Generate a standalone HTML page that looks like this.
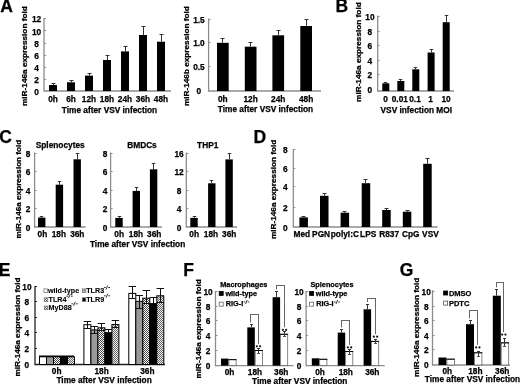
<!DOCTYPE html>
<html><head><meta charset="utf-8"><style>
html,body{margin:0;padding:0;background:#fff;width:520px;height:384px;overflow:hidden}
svg{display:block;will-change:transform}
text{font-family:"Liberation Sans", sans-serif;stroke:#000;stroke-width:0.25px}
</style></head><body>
<svg width="520" height="384" viewBox="0 0 520 384">
<defs>
<pattern id="pcheck" width="2" height="2" patternUnits="userSpaceOnUse"><rect width="2" height="2" fill="#fff"/><rect width="1" height="1" fill="#444"/><rect x="1" y="1" width="1" height="1" fill="#444"/></pattern>
<pattern id="phatch" width="2" height="2" patternUnits="userSpaceOnUse"><rect width="2" height="2" fill="#eee"/><rect width="1" height="1" fill="#666"/><rect x="1" y="1" width="1" height="1" fill="#666"/></pattern>
<pattern id="pgray" width="2" height="2" patternUnits="userSpaceOnUse"><rect width="2" height="2" fill="#bbb"/><rect width="1" height="1" fill="#666"/></pattern>
</defs>
<rect width="520" height="384" fill="#fff"/>
<text x="0.36" y="12.04" font-size="17.5" font-weight="bold">A</text>
<text transform="translate(27.20,56.10) rotate(-90)" x="0" y="0" font-size="7.6" text-anchor="middle" font-weight="bold" textLength="99.8" lengthAdjust="spacingAndGlyphs">miR-146a expression fold</text>
<line x1="44.00" y1="18.00" x2="44.00" y2="91.65" stroke="#8c8c8c" stroke-width="1.3"/>
<line x1="44.00" y1="91.00" x2="171.00" y2="91.00" stroke="#8c8c8c" stroke-width="1.3"/>
<text x="36.50" y="95" font-size="8.3" text-anchor="middle" font-weight="bold" fill="#000" >0</text>
<text x="36.50" y="83" font-size="8.3" text-anchor="middle" font-weight="bold" fill="#000" >2</text>
<text x="36.50" y="71" font-size="8.3" text-anchor="middle" font-weight="bold" fill="#000" >4</text>
<text x="36.50" y="59" font-size="8.3" text-anchor="middle" font-weight="bold" fill="#000" >6</text>
<text x="36.50" y="47" font-size="8.3" text-anchor="middle" font-weight="bold" fill="#000" >8</text>
<text x="36.50" y="35" font-size="8.3" text-anchor="middle" font-weight="bold" fill="#000" >10</text>
<text x="36.50" y="22" font-size="8.3" text-anchor="middle" font-weight="bold" fill="#000" >12</text>
<line x1="44.00" y1="79.50" x2="46.00" y2="79.50" stroke="#8c8c8c" stroke-width="1"/>
<line x1="44.00" y1="67.50" x2="46.00" y2="67.50" stroke="#8c8c8c" stroke-width="1"/>
<line x1="44.00" y1="55.50" x2="46.00" y2="55.50" stroke="#8c8c8c" stroke-width="1"/>
<line x1="44.00" y1="43.50" x2="46.00" y2="43.50" stroke="#8c8c8c" stroke-width="1"/>
<line x1="44.00" y1="30.50" x2="46.00" y2="30.50" stroke="#8c8c8c" stroke-width="1"/>
<line x1="44.00" y1="18.50" x2="46.00" y2="18.50" stroke="#8c8c8c" stroke-width="1"/>
<rect x="49.00" y="85.00" width="8.00" height="6.00" fill="#000"/>
<line x1="53.50" y1="83.50" x2="53.50" y2="85.00" stroke="#333" stroke-width="1"/>
<line x1="51.50" y1="83.50" x2="55.50" y2="83.50" stroke="#333" stroke-width="1"/>
<text x="53.00" y="102" font-size="8.3" text-anchor="middle" font-weight="bold" fill="#000" >0h</text>
<rect x="67.00" y="82.30" width="8.00" height="8.70" fill="#000"/>
<line x1="71.50" y1="80.50" x2="71.50" y2="82.30" stroke="#333" stroke-width="1"/>
<line x1="69.50" y1="80.50" x2="73.50" y2="80.50" stroke="#333" stroke-width="1"/>
<text x="71.00" y="102" font-size="8.3" text-anchor="middle" font-weight="bold" fill="#000" >6h</text>
<rect x="85.00" y="75.60" width="8.00" height="15.40" fill="#000"/>
<line x1="89.50" y1="73.50" x2="89.50" y2="75.60" stroke="#333" stroke-width="1"/>
<line x1="87.50" y1="73.50" x2="91.50" y2="73.50" stroke="#333" stroke-width="1"/>
<text x="89.00" y="102" font-size="8.3" text-anchor="middle" font-weight="bold" fill="#000" >12h</text>
<rect x="103.00" y="60.00" width="8.00" height="31.00" fill="#000"/>
<line x1="107.50" y1="55.50" x2="107.50" y2="60.00" stroke="#333" stroke-width="1"/>
<line x1="105.50" y1="55.50" x2="109.50" y2="55.50" stroke="#333" stroke-width="1"/>
<text x="107.00" y="102" font-size="8.3" text-anchor="middle" font-weight="bold" fill="#000" >18h</text>
<rect x="121.00" y="51.40" width="8.00" height="39.60" fill="#000"/>
<line x1="125.50" y1="46.50" x2="125.50" y2="51.40" stroke="#333" stroke-width="1"/>
<line x1="123.50" y1="46.50" x2="127.50" y2="46.50" stroke="#333" stroke-width="1"/>
<text x="125.00" y="102" font-size="8.3" text-anchor="middle" font-weight="bold" fill="#000" >24h</text>
<rect x="139.00" y="35.00" width="8.00" height="56.00" fill="#000"/>
<line x1="143.50" y1="26.50" x2="143.50" y2="35.00" stroke="#333" stroke-width="1"/>
<line x1="141.50" y1="26.50" x2="145.50" y2="26.50" stroke="#333" stroke-width="1"/>
<text x="143.00" y="102" font-size="8.3" text-anchor="middle" font-weight="bold" fill="#000" >36h</text>
<rect x="157.00" y="41.70" width="8.00" height="49.30" fill="#000"/>
<line x1="161.50" y1="34.50" x2="161.50" y2="41.70" stroke="#333" stroke-width="1"/>
<line x1="159.50" y1="34.50" x2="163.50" y2="34.50" stroke="#333" stroke-width="1"/>
<text x="161.00" y="102" font-size="8.3" text-anchor="middle" font-weight="bold" fill="#000" >48h</text>
<text x="109.50" y="113" font-size="8.3" text-anchor="middle" font-weight="bold" fill="#000" >Time after VSV infection</text>
<text transform="translate(188.60,56.10) rotate(-90)" x="0" y="0" font-size="7.6" text-anchor="middle" font-weight="bold" textLength="99.8" lengthAdjust="spacingAndGlyphs">miR-146b expression fold</text>
<line x1="208.60" y1="18.50" x2="208.60" y2="91.65" stroke="#8c8c8c" stroke-width="1.3"/>
<line x1="208.60" y1="91.00" x2="321.00" y2="91.00" stroke="#8c8c8c" stroke-width="1.3"/>
<text x="198.90" y="94" font-size="8.3" text-anchor="middle" font-weight="bold" fill="#000" >0</text>
<text x="198.90" y="70" font-size="8.3" text-anchor="middle" font-weight="bold" fill="#000" >0.5</text>
<text x="198.90" y="46" font-size="8.3" text-anchor="middle" font-weight="bold" fill="#000" >1.0</text>
<text x="198.90" y="23" font-size="8.3" text-anchor="middle" font-weight="bold" fill="#000" >1.5</text>
<line x1="208.60" y1="66.50" x2="210.60" y2="66.50" stroke="#8c8c8c" stroke-width="1"/>
<line x1="208.60" y1="42.50" x2="210.60" y2="42.50" stroke="#8c8c8c" stroke-width="1"/>
<line x1="208.60" y1="19.50" x2="210.60" y2="19.50" stroke="#8c8c8c" stroke-width="1"/>
<rect x="217.00" y="42.80" width="11.70" height="48.20" fill="#000"/>
<line x1="222.50" y1="38.50" x2="222.50" y2="42.80" stroke="#333" stroke-width="1"/>
<line x1="220.50" y1="38.50" x2="224.50" y2="38.50" stroke="#333" stroke-width="1"/>
<text x="222.85" y="102" font-size="8.3" text-anchor="middle" font-weight="bold" fill="#000" >0h</text>
<rect x="244.80" y="46.70" width="11.70" height="44.30" fill="#000"/>
<line x1="250.50" y1="42.50" x2="250.50" y2="46.70" stroke="#333" stroke-width="1"/>
<line x1="248.50" y1="42.50" x2="252.50" y2="42.50" stroke="#333" stroke-width="1"/>
<text x="250.65" y="102" font-size="8.3" text-anchor="middle" font-weight="bold" fill="#000" >12h</text>
<rect x="272.40" y="35.30" width="11.70" height="55.70" fill="#000"/>
<line x1="278.50" y1="30.50" x2="278.50" y2="35.30" stroke="#333" stroke-width="1"/>
<line x1="276.50" y1="30.50" x2="280.50" y2="30.50" stroke="#333" stroke-width="1"/>
<text x="278.25" y="102" font-size="8.3" text-anchor="middle" font-weight="bold" fill="#000" >24h</text>
<rect x="300.30" y="26.00" width="11.70" height="65.00" fill="#000"/>
<line x1="306.50" y1="19.50" x2="306.50" y2="26.00" stroke="#333" stroke-width="1"/>
<line x1="304.50" y1="19.50" x2="308.50" y2="19.50" stroke="#333" stroke-width="1"/>
<text x="306.15" y="102" font-size="8.3" text-anchor="middle" font-weight="bold" fill="#000" >48h</text>
<text x="265.50" y="112" font-size="8.3" text-anchor="middle" font-weight="bold" fill="#000" >Time after VSV infection</text>
<text x="335.43" y="12.04" font-size="17.5" font-weight="bold">B</text>
<text transform="translate(360.60,52.10) rotate(-90)" x="0" y="0" font-size="7.6" text-anchor="middle" font-weight="bold" textLength="99.6" lengthAdjust="spacingAndGlyphs">miR-146a expression fold</text>
<line x1="377.70" y1="15.50" x2="377.70" y2="91.65" stroke="#8c8c8c" stroke-width="1.3"/>
<line x1="377.70" y1="91.00" x2="454.00" y2="91.00" stroke="#8c8c8c" stroke-width="1.3"/>
<text x="369.90" y="93" font-size="8.3" text-anchor="middle" font-weight="bold" fill="#000" >0</text>
<text x="369.90" y="78" font-size="8.3" text-anchor="middle" font-weight="bold" fill="#000" >2</text>
<text x="369.90" y="64" font-size="8.3" text-anchor="middle" font-weight="bold" fill="#000" >4</text>
<text x="369.90" y="49" font-size="8.3" text-anchor="middle" font-weight="bold" fill="#000" >6</text>
<text x="369.90" y="35" font-size="8.3" text-anchor="middle" font-weight="bold" fill="#000" >8</text>
<text x="369.90" y="20" font-size="8.3" text-anchor="middle" font-weight="bold" fill="#000" >10</text>
<line x1="377.70" y1="74.50" x2="379.70" y2="74.50" stroke="#8c8c8c" stroke-width="1"/>
<line x1="377.70" y1="60.50" x2="379.70" y2="60.50" stroke="#8c8c8c" stroke-width="1"/>
<line x1="377.70" y1="45.50" x2="379.70" y2="45.50" stroke="#8c8c8c" stroke-width="1"/>
<line x1="377.70" y1="31.50" x2="379.70" y2="31.50" stroke="#8c8c8c" stroke-width="1"/>
<line x1="377.70" y1="16.50" x2="379.70" y2="16.50" stroke="#8c8c8c" stroke-width="1"/>
<rect x="382.30" y="83.30" width="7.00" height="7.70" fill="#000"/>
<line x1="385.50" y1="82.50" x2="385.50" y2="83.30" stroke="#333" stroke-width="1"/>
<line x1="383.75" y1="82.50" x2="387.25" y2="82.50" stroke="#333" stroke-width="1"/>
<rect x="397.30" y="81.00" width="7.00" height="10.00" fill="#000"/>
<line x1="400.50" y1="79.50" x2="400.50" y2="81.00" stroke="#333" stroke-width="1"/>
<line x1="398.75" y1="79.50" x2="402.25" y2="79.50" stroke="#333" stroke-width="1"/>
<rect x="412.30" y="69.30" width="7.00" height="21.70" fill="#000"/>
<line x1="415.50" y1="67.50" x2="415.50" y2="69.30" stroke="#333" stroke-width="1"/>
<line x1="413.75" y1="67.50" x2="417.25" y2="67.50" stroke="#333" stroke-width="1"/>
<rect x="427.60" y="52.50" width="7.00" height="38.50" fill="#000"/>
<line x1="431.50" y1="49.50" x2="431.50" y2="52.50" stroke="#333" stroke-width="1"/>
<line x1="429.75" y1="49.50" x2="433.25" y2="49.50" stroke="#333" stroke-width="1"/>
<rect x="442.70" y="22.20" width="7.00" height="68.80" fill="#000"/>
<line x1="446.50" y1="15.50" x2="446.50" y2="22.20" stroke="#333" stroke-width="1"/>
<line x1="444.75" y1="15.50" x2="448.25" y2="15.50" stroke="#333" stroke-width="1"/>
<text x="385.60" y="102" font-size="8.3" text-anchor="middle" font-weight="bold" fill="#000" >0</text>
<text x="399.80" y="102" font-size="8.3" text-anchor="middle" font-weight="bold" fill="#000" >0.01</text>
<text x="415.00" y="102" font-size="8.3" text-anchor="middle" font-weight="bold" fill="#000" >0.1</text>
<text x="430.50" y="102" font-size="8.3" text-anchor="middle" font-weight="bold" fill="#000" >1</text>
<text x="446.10" y="102" font-size="8.3" text-anchor="middle" font-weight="bold" fill="#000" >10</text>
<text x="416.30" y="113" font-size="8.3" text-anchor="middle" font-weight="bold" fill="#000" >VSV infection MOI</text>
<text x="-0.72" y="143.12" font-size="17.5" font-weight="bold">C</text>
<text transform="translate(21.00,189.05) rotate(-90)" x="0" y="0" font-size="7.6" text-anchor="middle" font-weight="bold" textLength="98.7" lengthAdjust="spacingAndGlyphs">miR-146a expression fold</text>
<line x1="34.60" y1="152.50" x2="34.60" y2="227.65" stroke="#8c8c8c" stroke-width="1.3"/>
<line x1="34.60" y1="227.00" x2="85.60" y2="227.00" stroke="#8c8c8c" stroke-width="1.3"/>
<text x="28.10" y="231" font-size="8.3" text-anchor="middle" font-weight="bold" fill="#000" >0</text>
<text x="28.10" y="212" font-size="8.3" text-anchor="middle" font-weight="bold" fill="#000" >2</text>
<text x="28.10" y="194" font-size="8.3" text-anchor="middle" font-weight="bold" fill="#000" >4</text>
<text x="28.10" y="175" font-size="8.3" text-anchor="middle" font-weight="bold" fill="#000" >6</text>
<text x="28.10" y="157" font-size="8.3" text-anchor="middle" font-weight="bold" fill="#000" >8</text>
<line x1="34.60" y1="208.50" x2="36.60" y2="208.50" stroke="#8c8c8c" stroke-width="1"/>
<line x1="34.60" y1="190.50" x2="36.60" y2="190.50" stroke="#8c8c8c" stroke-width="1"/>
<line x1="34.60" y1="171.50" x2="36.60" y2="171.50" stroke="#8c8c8c" stroke-width="1"/>
<line x1="34.60" y1="153.50" x2="36.60" y2="153.50" stroke="#8c8c8c" stroke-width="1"/>
<text x="60.20" y="148" font-size="8.3" text-anchor="middle" font-weight="bold" fill="#000" >Splenocytes</text>
<rect x="38.00" y="217.60" width="7.40" height="9.40" fill="#000"/>
<line x1="41.50" y1="216.50" x2="41.50" y2="217.60" stroke="#333" stroke-width="1"/>
<line x1="39.75" y1="216.50" x2="43.25" y2="216.50" stroke="#333" stroke-width="1"/>
<rect x="55.70" y="184.70" width="7.40" height="42.30" fill="#000"/>
<line x1="59.50" y1="181.50" x2="59.50" y2="184.70" stroke="#333" stroke-width="1"/>
<line x1="57.75" y1="181.50" x2="61.25" y2="181.50" stroke="#333" stroke-width="1"/>
<rect x="73.50" y="159.30" width="7.40" height="67.70" fill="#000"/>
<line x1="77.50" y1="153.50" x2="77.50" y2="159.30" stroke="#333" stroke-width="1"/>
<line x1="75.75" y1="153.50" x2="79.25" y2="153.50" stroke="#333" stroke-width="1"/>
<text x="42.40" y="237" font-size="8.3" text-anchor="middle" font-weight="bold" fill="#000" >0h</text>
<text x="58.90" y="237" font-size="8.3" text-anchor="middle" font-weight="bold" fill="#000" >18h</text>
<text x="77.30" y="237" font-size="8.3" text-anchor="middle" font-weight="bold" fill="#000" >36h</text>
<line x1="110.60" y1="152.50" x2="110.60" y2="227.65" stroke="#8c8c8c" stroke-width="1.3"/>
<line x1="110.60" y1="227.00" x2="162.00" y2="227.00" stroke="#8c8c8c" stroke-width="1.3"/>
<text x="105.10" y="231" font-size="8.3" text-anchor="middle" font-weight="bold" fill="#000" >0</text>
<text x="105.10" y="212" font-size="8.3" text-anchor="middle" font-weight="bold" fill="#000" >2</text>
<text x="105.10" y="194" font-size="8.3" text-anchor="middle" font-weight="bold" fill="#000" >4</text>
<text x="105.10" y="175" font-size="8.3" text-anchor="middle" font-weight="bold" fill="#000" >6</text>
<text x="105.10" y="157" font-size="8.3" text-anchor="middle" font-weight="bold" fill="#000" >8</text>
<line x1="110.60" y1="208.50" x2="112.60" y2="208.50" stroke="#8c8c8c" stroke-width="1"/>
<line x1="110.60" y1="190.50" x2="112.60" y2="190.50" stroke="#8c8c8c" stroke-width="1"/>
<line x1="110.60" y1="171.50" x2="112.60" y2="171.50" stroke="#8c8c8c" stroke-width="1"/>
<line x1="110.60" y1="153.50" x2="112.60" y2="153.50" stroke="#8c8c8c" stroke-width="1"/>
<text x="142.00" y="148" font-size="8.3" text-anchor="middle" font-weight="bold" fill="#000" >BMDCs</text>
<rect x="115.30" y="217.90" width="7.40" height="9.10" fill="#000"/>
<line x1="119.50" y1="216.50" x2="119.50" y2="217.90" stroke="#333" stroke-width="1"/>
<line x1="117.75" y1="216.50" x2="121.25" y2="216.50" stroke="#333" stroke-width="1"/>
<rect x="132.60" y="190.90" width="7.40" height="36.10" fill="#000"/>
<line x1="136.50" y1="187.50" x2="136.50" y2="190.90" stroke="#333" stroke-width="1"/>
<line x1="134.75" y1="187.50" x2="138.25" y2="187.50" stroke="#333" stroke-width="1"/>
<rect x="149.90" y="169.30" width="7.40" height="57.70" fill="#000"/>
<line x1="153.50" y1="163.50" x2="153.50" y2="169.30" stroke="#333" stroke-width="1"/>
<line x1="151.75" y1="163.50" x2="155.25" y2="163.50" stroke="#333" stroke-width="1"/>
<text x="119.20" y="237" font-size="8.3" text-anchor="middle" font-weight="bold" fill="#000" >0h</text>
<text x="136.00" y="237" font-size="8.3" text-anchor="middle" font-weight="bold" fill="#000" >18h</text>
<text x="154.20" y="237" font-size="8.3" text-anchor="middle" font-weight="bold" fill="#000" >36h</text>
<line x1="186.30" y1="152.50" x2="186.30" y2="227.65" stroke="#8c8c8c" stroke-width="1.3"/>
<line x1="186.30" y1="227.00" x2="237.00" y2="227.00" stroke="#8c8c8c" stroke-width="1.3"/>
<text x="179.10" y="231" font-size="8.3" text-anchor="middle" font-weight="bold" fill="#000" >0</text>
<text x="179.10" y="212" font-size="8.3" text-anchor="middle" font-weight="bold" fill="#000" >4</text>
<text x="179.10" y="194" font-size="8.3" text-anchor="middle" font-weight="bold" fill="#000" >8</text>
<text x="179.10" y="175" font-size="8.3" text-anchor="middle" font-weight="bold" fill="#000" >12</text>
<text x="179.10" y="157" font-size="8.3" text-anchor="middle" font-weight="bold" fill="#000" >16</text>
<line x1="186.30" y1="208.50" x2="188.30" y2="208.50" stroke="#8c8c8c" stroke-width="1"/>
<line x1="186.30" y1="190.50" x2="188.30" y2="190.50" stroke="#8c8c8c" stroke-width="1"/>
<line x1="186.30" y1="171.50" x2="188.30" y2="171.50" stroke="#8c8c8c" stroke-width="1"/>
<line x1="186.30" y1="153.50" x2="188.30" y2="153.50" stroke="#8c8c8c" stroke-width="1"/>
<text x="207.70" y="148" font-size="8.3" text-anchor="middle" font-weight="bold" fill="#000" >THP1</text>
<rect x="190.30" y="217.90" width="7.40" height="9.10" fill="#000"/>
<line x1="194.50" y1="216.50" x2="194.50" y2="217.90" stroke="#333" stroke-width="1"/>
<line x1="192.75" y1="216.50" x2="196.25" y2="216.50" stroke="#333" stroke-width="1"/>
<rect x="208.10" y="183.30" width="7.40" height="43.70" fill="#000"/>
<line x1="211.50" y1="180.50" x2="211.50" y2="183.30" stroke="#333" stroke-width="1"/>
<line x1="209.75" y1="180.50" x2="213.25" y2="180.50" stroke="#333" stroke-width="1"/>
<rect x="225.40" y="159.40" width="7.40" height="67.60" fill="#000"/>
<line x1="229.50" y1="153.50" x2="229.50" y2="159.40" stroke="#333" stroke-width="1"/>
<line x1="227.75" y1="153.50" x2="231.25" y2="153.50" stroke="#333" stroke-width="1"/>
<text x="194.20" y="237" font-size="8.3" text-anchor="middle" font-weight="bold" fill="#000" >0h</text>
<text x="211.00" y="237" font-size="8.3" text-anchor="middle" font-weight="bold" fill="#000" >18h</text>
<text x="229.20" y="237" font-size="8.3" text-anchor="middle" font-weight="bold" fill="#000" >36h</text>
<text x="137.60" y="247" font-size="8.3" text-anchor="middle" font-weight="bold" fill="#000" >Time after VSV infection</text>
<text x="253.53" y="142.74" font-size="17.5" font-weight="bold">D</text>
<text transform="translate(275.60,189.35) rotate(-90)" x="0" y="0" font-size="7.6" text-anchor="middle" font-weight="bold" textLength="99.3" lengthAdjust="spacingAndGlyphs">miR-146a expression fold</text>
<line x1="293.30" y1="149.30" x2="293.30" y2="227.65" stroke="#8c8c8c" stroke-width="1.3"/>
<line x1="293.30" y1="227.00" x2="437.50" y2="227.00" stroke="#8c8c8c" stroke-width="1.3"/>
<text x="285.40" y="231" font-size="8.3" text-anchor="middle" font-weight="bold" fill="#000" >0</text>
<text x="285.40" y="211" font-size="8.3" text-anchor="middle" font-weight="bold" fill="#000" >2</text>
<text x="285.40" y="190" font-size="8.3" text-anchor="middle" font-weight="bold" fill="#000" >4</text>
<text x="285.40" y="172" font-size="8.3" text-anchor="middle" font-weight="bold" fill="#000" >6</text>
<text x="285.40" y="153" font-size="8.3" text-anchor="middle" font-weight="bold" fill="#000" >8</text>
<line x1="293.30" y1="207.50" x2="295.30" y2="207.50" stroke="#8c8c8c" stroke-width="1"/>
<line x1="293.30" y1="186.50" x2="295.30" y2="186.50" stroke="#8c8c8c" stroke-width="1"/>
<line x1="293.30" y1="168.50" x2="295.30" y2="168.50" stroke="#8c8c8c" stroke-width="1"/>
<line x1="293.30" y1="149.50" x2="295.30" y2="149.50" stroke="#8c8c8c" stroke-width="1"/>
<rect x="299.40" y="217.40" width="8.50" height="9.60" fill="#000"/>
<line x1="303.50" y1="216.50" x2="303.50" y2="217.40" stroke="#333" stroke-width="1"/>
<line x1="301.50" y1="216.50" x2="305.50" y2="216.50" stroke="#333" stroke-width="1"/>
<rect x="320.00" y="195.80" width="8.50" height="31.20" fill="#000"/>
<line x1="324.50" y1="193.50" x2="324.50" y2="195.80" stroke="#333" stroke-width="1"/>
<line x1="322.50" y1="193.50" x2="326.50" y2="193.50" stroke="#333" stroke-width="1"/>
<rect x="340.60" y="212.70" width="8.50" height="14.30" fill="#000"/>
<line x1="344.50" y1="211.50" x2="344.50" y2="212.70" stroke="#333" stroke-width="1"/>
<line x1="342.50" y1="211.50" x2="346.50" y2="211.50" stroke="#333" stroke-width="1"/>
<rect x="361.70" y="183.20" width="8.50" height="43.80" fill="#000"/>
<line x1="365.50" y1="179.50" x2="365.50" y2="183.20" stroke="#333" stroke-width="1"/>
<line x1="363.50" y1="179.50" x2="367.50" y2="179.50" stroke="#333" stroke-width="1"/>
<rect x="382.20" y="210.00" width="8.50" height="17.00" fill="#000"/>
<line x1="386.50" y1="208.50" x2="386.50" y2="210.00" stroke="#333" stroke-width="1"/>
<line x1="384.50" y1="208.50" x2="388.50" y2="208.50" stroke="#333" stroke-width="1"/>
<rect x="402.80" y="211.70" width="8.50" height="15.30" fill="#000"/>
<line x1="407.50" y1="210.50" x2="407.50" y2="211.70" stroke="#333" stroke-width="1"/>
<line x1="405.50" y1="210.50" x2="409.50" y2="210.50" stroke="#333" stroke-width="1"/>
<rect x="423.20" y="163.80" width="8.50" height="63.20" fill="#000"/>
<line x1="427.50" y1="158.50" x2="427.50" y2="163.80" stroke="#333" stroke-width="1"/>
<line x1="425.50" y1="158.50" x2="429.50" y2="158.50" stroke="#333" stroke-width="1"/>
<text x="301.90" y="237" font-size="8.3" text-anchor="middle" font-weight="bold" fill="#000" >Med</text>
<text x="321.10" y="237" font-size="8.3" text-anchor="middle" font-weight="bold" fill="#000" >PGN</text>
<text x="344.85" y="237" font-size="8.3" text-anchor="middle" font-weight="bold" fill="#000" >polyI:C</text>
<text x="368.15" y="237" font-size="8.3" text-anchor="middle" font-weight="bold" fill="#000" >LPS</text>
<text x="389.20" y="237" font-size="8.3" text-anchor="middle" font-weight="bold" fill="#000" >R837</text>
<text x="410.75" y="237" font-size="8.3" text-anchor="middle" font-weight="bold" fill="#000" >CpG</text>
<text x="430.40" y="237" font-size="8.3" text-anchor="middle" font-weight="bold" fill="#000" >VSV</text>
<text x="-1.17" y="275.94" font-size="17.5" font-weight="bold">E</text>
<text transform="translate(20.20,327.00) rotate(-90)" x="0" y="0" font-size="7.6" text-anchor="middle" font-weight="bold" textLength="99.0" lengthAdjust="spacingAndGlyphs">miR-146a expression fold</text>
<line x1="35.00" y1="286.00" x2="35.00" y2="365.15" stroke="#222" stroke-width="1.3"/>
<line x1="35.00" y1="364.50" x2="165.00" y2="364.50" stroke="#222" stroke-width="1.3"/>
<text x="26.90" y="368" font-size="8.3" text-anchor="middle" font-weight="bold" fill="#000" >0</text>
<text x="26.90" y="352" font-size="8.3" text-anchor="middle" font-weight="bold" fill="#000" >2</text>
<text x="26.90" y="336" font-size="8.3" text-anchor="middle" font-weight="bold" fill="#000" >4</text>
<text x="26.90" y="321" font-size="8.3" text-anchor="middle" font-weight="bold" fill="#000" >6</text>
<text x="26.90" y="305" font-size="8.3" text-anchor="middle" font-weight="bold" fill="#000" >8</text>
<text x="26.90" y="290" font-size="8.3" text-anchor="middle" font-weight="bold" fill="#000" >10</text>
<line x1="35.00" y1="348.50" x2="37.00" y2="348.50" stroke="#222" stroke-width="1"/>
<line x1="35.00" y1="332.50" x2="37.00" y2="332.50" stroke="#222" stroke-width="1"/>
<line x1="35.00" y1="317.50" x2="37.00" y2="317.50" stroke="#222" stroke-width="1"/>
<line x1="35.00" y1="301.50" x2="37.00" y2="301.50" stroke="#222" stroke-width="1"/>
<line x1="35.00" y1="286.50" x2="37.00" y2="286.50" stroke="#222" stroke-width="1"/>
<rect x="43.90" y="288.90" width="3.50" height="3.60" fill="#fff" stroke="#777" stroke-width="0.8"/>
<text x="48.00" y="293" font-size="7.2" text-anchor="start" font-weight="bold" fill="#000" style="stroke-width:0.1px">wild-type</text>
<rect x="82.30" y="288.90" width="3.50" height="3.60" fill="url(#pgray)" stroke="#777" stroke-width="0.8"/>
<text x="86.20" y="293" font-size="7.2" text-anchor="start" font-weight="bold" fill="#000" style="stroke-width:0.1px">TLR3</text>
<line x1="103.90" y1="287.50" x2="105.67" y2="287.50" stroke="#222" stroke-width="0.9"/>
<line x1="105.97" y1="289.50" x2="107.68" y2="285.50" stroke="#222" stroke-width="0.9"/>
<line x1="108.23" y1="287.50" x2="110.00" y2="287.50" stroke="#222" stroke-width="0.9"/>
<rect x="44.30" y="297.80" width="3.50" height="3.60" fill="url(#pcheck)" stroke="#777" stroke-width="0.8"/>
<text x="48.50" y="302" font-size="7.2" text-anchor="start" font-weight="bold" fill="#000" style="stroke-width:0.1px">TLR4</text>
<line x1="66.30" y1="296.20" x2="68.16" y2="296.20" stroke="#222" stroke-width="0.9"/>
<line x1="68.48" y1="298.20" x2="70.27" y2="294.20" stroke="#222" stroke-width="0.9"/>
<line x1="70.84" y1="296.20" x2="72.70" y2="296.20" stroke="#222" stroke-width="0.9"/>
<rect x="82.30" y="297.80" width="3.50" height="3.60" fill="#000" stroke="#777" stroke-width="0.8"/>
<text x="86.20" y="302" font-size="7.2" text-anchor="start" font-weight="bold" fill="#000" style="stroke-width:0.1px">TLR9</text>
<line x1="103.90" y1="295.80" x2="105.73" y2="295.80" stroke="#222" stroke-width="0.9"/>
<line x1="106.04" y1="297.80" x2="107.81" y2="293.80" stroke="#222" stroke-width="0.9"/>
<line x1="108.37" y1="295.80" x2="110.20" y2="295.80" stroke="#222" stroke-width="0.9"/>
<rect x="44.30" y="306.10" width="3.50" height="3.60" fill="url(#phatch)" stroke="#777" stroke-width="0.8"/>
<text x="48.50" y="310" font-size="7.2" text-anchor="start" font-weight="bold" fill="#000" style="stroke-width:0.1px">MyD88</text>
<line x1="71.50" y1="303.80" x2="73.30" y2="303.80" stroke="#222" stroke-width="0.9"/>
<line x1="73.61" y1="305.80" x2="75.34" y2="301.80" stroke="#222" stroke-width="0.9"/>
<line x1="75.90" y1="303.80" x2="77.70" y2="303.80" stroke="#222" stroke-width="0.9"/>
<rect x="39.50" y="356.80" width="7.00" height="7.70" fill="#fff" stroke="#000" stroke-width="1"/>
<rect x="46.50" y="356.80" width="7.00" height="7.70" fill="#9a9a9a" stroke="#000" stroke-width="1"/>
<rect x="53.50" y="356.80" width="7.00" height="7.70" fill="url(#pcheck)" stroke="#000" stroke-width="1"/>
<rect x="60.50" y="356.80" width="7.00" height="7.70" fill="#000" stroke="#000" stroke-width="1"/>
<rect x="67.50" y="356.80" width="7.00" height="7.70" fill="url(#phatch)" stroke="#000" stroke-width="1"/>
<rect x="83.90" y="324.70" width="7.00" height="39.80" fill="#fff" stroke="#000" stroke-width="1"/>
<rect x="90.90" y="329.90" width="7.00" height="34.60" fill="#9a9a9a" stroke="#000" stroke-width="1"/>
<rect x="97.90" y="327.80" width="7.00" height="36.70" fill="url(#pcheck)" stroke="#000" stroke-width="1"/>
<rect x="104.90" y="332.70" width="7.00" height="31.80" fill="#000" stroke="#000" stroke-width="1"/>
<rect x="111.90" y="324.50" width="7.00" height="40.00" fill="url(#phatch)" stroke="#000" stroke-width="1"/>
<line x1="87.50" y1="321.50" x2="87.50" y2="328.10" stroke="#111" stroke-width="1"/>
<line x1="83.70" y1="321.50" x2="91.10" y2="321.50" stroke="#111" stroke-width="1"/>
<line x1="83.90" y1="328.50" x2="90.90" y2="328.50" stroke="#111" stroke-width="1"/>
<line x1="94.50" y1="326.50" x2="94.50" y2="333.00" stroke="#111" stroke-width="1"/>
<line x1="90.70" y1="326.50" x2="98.10" y2="326.50" stroke="#111" stroke-width="1"/>
<line x1="90.90" y1="333.50" x2="97.90" y2="333.50" stroke="#111" stroke-width="1"/>
<line x1="101.50" y1="323.50" x2="101.50" y2="330.50" stroke="#111" stroke-width="1"/>
<line x1="97.70" y1="323.50" x2="105.10" y2="323.50" stroke="#111" stroke-width="1"/>
<line x1="97.90" y1="330.50" x2="104.90" y2="330.50" stroke="#111" stroke-width="1"/>
<line x1="108.50" y1="329.50" x2="108.50" y2="332.20" stroke="#111" stroke-width="1"/>
<line x1="104.70" y1="329.50" x2="112.10" y2="329.50" stroke="#111" stroke-width="1"/>
<line x1="115.50" y1="320.50" x2="115.50" y2="327.70" stroke="#111" stroke-width="1"/>
<line x1="111.70" y1="320.50" x2="119.10" y2="320.50" stroke="#111" stroke-width="1"/>
<line x1="111.90" y1="327.50" x2="118.90" y2="327.50" stroke="#111" stroke-width="1"/>
<rect x="128.80" y="293.40" width="7.00" height="71.10" fill="#fff" stroke="#000" stroke-width="1"/>
<rect x="135.80" y="301.30" width="7.00" height="63.20" fill="#9a9a9a" stroke="#000" stroke-width="1"/>
<rect x="142.80" y="298.20" width="7.00" height="66.30" fill="url(#pcheck)" stroke="#000" stroke-width="1"/>
<rect x="149.80" y="303.60" width="7.00" height="60.90" fill="#000" stroke="#000" stroke-width="1"/>
<rect x="156.80" y="295.80" width="7.00" height="68.70" fill="url(#phatch)" stroke="#000" stroke-width="1"/>
<line x1="132.50" y1="286.50" x2="132.50" y2="298.80" stroke="#111" stroke-width="1"/>
<line x1="128.60" y1="286.50" x2="136.00" y2="286.50" stroke="#111" stroke-width="1"/>
<line x1="128.80" y1="298.50" x2="135.80" y2="298.50" stroke="#111" stroke-width="1"/>
<line x1="139.50" y1="295.50" x2="139.50" y2="308.00" stroke="#111" stroke-width="1"/>
<line x1="135.60" y1="295.50" x2="143.00" y2="295.50" stroke="#111" stroke-width="1"/>
<line x1="135.80" y1="308.50" x2="142.80" y2="308.50" stroke="#111" stroke-width="1"/>
<line x1="146.50" y1="290.50" x2="146.50" y2="303.50" stroke="#111" stroke-width="1"/>
<line x1="142.60" y1="290.50" x2="150.00" y2="290.50" stroke="#111" stroke-width="1"/>
<line x1="142.80" y1="303.50" x2="149.80" y2="303.50" stroke="#111" stroke-width="1"/>
<line x1="153.50" y1="297.50" x2="153.50" y2="303.10" stroke="#111" stroke-width="1"/>
<line x1="149.60" y1="297.50" x2="157.00" y2="297.50" stroke="#111" stroke-width="1"/>
<line x1="160.50" y1="288.50" x2="160.50" y2="302.00" stroke="#111" stroke-width="1"/>
<line x1="156.60" y1="288.50" x2="164.00" y2="288.50" stroke="#111" stroke-width="1"/>
<line x1="156.80" y1="302.50" x2="163.80" y2="302.50" stroke="#111" stroke-width="1"/>
<line x1="39.00" y1="356.30" x2="74.00" y2="356.30" stroke="#000" stroke-width="1.5"/>
<text x="56.70" y="374" font-size="8.3" text-anchor="middle" font-weight="bold" fill="#000" >0h</text>
<text x="101.60" y="374" font-size="8.3" text-anchor="middle" font-weight="bold" fill="#000" >18h</text>
<text x="147.40" y="374" font-size="8.3" text-anchor="middle" font-weight="bold" fill="#000" >36h</text>
<text x="104.10" y="383" font-size="8.3" text-anchor="middle" font-weight="bold" fill="#000" >Time after VSV infection</text>
<text x="183.23" y="275.94" font-size="17.5" font-weight="bold">F</text>
<text transform="translate(201.00,328.90) rotate(-90)" x="0" y="0" font-size="7.6" text-anchor="middle" font-weight="bold" textLength="99.4" lengthAdjust="spacingAndGlyphs">miR-146a expression fold</text>
<line x1="215.50" y1="291.00" x2="215.50" y2="366.25" stroke="#8c8c8c" stroke-width="1.3"/>
<line x1="215.50" y1="365.60" x2="293.60" y2="365.60" stroke="#8c8c8c" stroke-width="1.3"/>
<text x="208.10" y="369" font-size="8.3" text-anchor="middle" font-weight="bold" fill="#000" >0</text>
<text x="208.10" y="354" font-size="8.3" text-anchor="middle" font-weight="bold" fill="#000" >2</text>
<text x="208.10" y="339" font-size="8.3" text-anchor="middle" font-weight="bold" fill="#000" >4</text>
<text x="208.10" y="324" font-size="8.3" text-anchor="middle" font-weight="bold" fill="#000" >6</text>
<text x="208.10" y="310" font-size="8.3" text-anchor="middle" font-weight="bold" fill="#000" >8</text>
<text x="208.10" y="295" font-size="8.3" text-anchor="middle" font-weight="bold" fill="#000" >10</text>
<line x1="215.50" y1="350.50" x2="217.50" y2="350.50" stroke="#8c8c8c" stroke-width="1"/>
<line x1="215.50" y1="335.50" x2="217.50" y2="335.50" stroke="#8c8c8c" stroke-width="1"/>
<line x1="215.50" y1="320.50" x2="217.50" y2="320.50" stroke="#8c8c8c" stroke-width="1"/>
<line x1="215.50" y1="306.50" x2="217.50" y2="306.50" stroke="#8c8c8c" stroke-width="1"/>
<line x1="215.50" y1="291.50" x2="217.50" y2="291.50" stroke="#8c8c8c" stroke-width="1"/>
<text x="243.80" y="287" font-size="7.3" text-anchor="middle" font-weight="bold" fill="#000" >Macrophages</text>
<rect x="219.20" y="291.40" width="4.00" height="4.00" fill="#000" stroke="#000" stroke-width="0.8"/>
<text x="225.40" y="296" font-size="7.3" text-anchor="start" font-weight="bold" fill="#000" >wild-type</text>
<rect x="219.20" y="302.20" width="4.00" height="4.00" fill="#fff" stroke="#666" stroke-width="0.8"/>
<text x="225.80" y="306" font-size="7.3" text-anchor="start" font-weight="bold" fill="#000" >RIG-I</text>
<line x1="243.60" y1="302.00" x2="245.28" y2="302.00" stroke="#222" stroke-width="0.9"/>
<line x1="245.57" y1="304.00" x2="247.20" y2="300.00" stroke="#222" stroke-width="0.9"/>
<line x1="247.72" y1="302.00" x2="249.40" y2="302.00" stroke="#222" stroke-width="0.9"/>
<rect x="221.00" y="358.60" width="7.50" height="7.00" fill="#000"/>
<rect x="228.90" y="359.60" width="7.20" height="6.00" fill="#fff" stroke="#666" stroke-width="0.8"/>
<line x1="228.50" y1="359.70" x2="236.50" y2="359.70" stroke="#000" stroke-width="1"/>
<rect x="247.30" y="327.40" width="7.50" height="38.20" fill="#000"/>
<line x1="251.50" y1="324.50" x2="251.50" y2="327.40" stroke="#333" stroke-width="1"/>
<line x1="250.00" y1="324.50" x2="253.00" y2="324.50" stroke="#333" stroke-width="1"/>
<rect x="255.20" y="350.40" width="7.20" height="15.20" fill="#fff" stroke="#666" stroke-width="0.8"/>
<line x1="254.80" y1="350.50" x2="262.80" y2="350.50" stroke="#000" stroke-width="1"/>
<line x1="258.50" y1="348.50" x2="258.50" y2="353.50" stroke="#333" stroke-width="1"/>
<line x1="257.00" y1="348.50" x2="260.00" y2="348.50" stroke="#333" stroke-width="1"/>
<line x1="257.00" y1="353.50" x2="260.00" y2="353.50" stroke="#555" stroke-width="1"/>
<line x1="250.50" y1="314.50" x2="250.50" y2="322.40" stroke="#666" stroke-width="1"/>
<line x1="250.00" y1="314.50" x2="259.00" y2="314.50" stroke="#666" stroke-width="1"/>
<line x1="258.50" y1="314.50" x2="258.50" y2="343.80" stroke="#666" stroke-width="1"/>
<circle cx="256.85" cy="346.30" r="1.1" fill="#111"/>
<circle cx="260.15" cy="346.30" r="1.1" fill="#111"/>
<rect x="272.60" y="297.20" width="7.50" height="68.40" fill="#000"/>
<line x1="276.50" y1="291.50" x2="276.50" y2="297.20" stroke="#333" stroke-width="1"/>
<line x1="275.00" y1="291.50" x2="278.00" y2="291.50" stroke="#333" stroke-width="1"/>
<rect x="280.50" y="334.20" width="7.20" height="31.40" fill="#fff" stroke="#666" stroke-width="0.8"/>
<line x1="280.10" y1="334.30" x2="288.10" y2="334.30" stroke="#000" stroke-width="1"/>
<line x1="284.50" y1="331.50" x2="284.50" y2="336.50" stroke="#333" stroke-width="1"/>
<line x1="283.00" y1="331.50" x2="286.00" y2="331.50" stroke="#333" stroke-width="1"/>
<line x1="283.00" y1="336.50" x2="286.00" y2="336.50" stroke="#555" stroke-width="1"/>
<line x1="276.50" y1="285.50" x2="276.50" y2="289.40" stroke="#666" stroke-width="1"/>
<line x1="276.00" y1="285.50" x2="285.00" y2="285.50" stroke="#666" stroke-width="1"/>
<line x1="284.50" y1="285.50" x2="284.50" y2="327.30" stroke="#666" stroke-width="1"/>
<circle cx="282.85" cy="329.80" r="1.1" fill="#111"/>
<circle cx="286.15" cy="329.80" r="1.1" fill="#111"/>
<text x="229.60" y="375" font-size="8.3" text-anchor="middle" font-weight="bold" fill="#000" >0h</text>
<text x="255.00" y="375" font-size="8.3" text-anchor="middle" font-weight="bold" fill="#000" >18h</text>
<text x="281.20" y="375" font-size="8.3" text-anchor="middle" font-weight="bold" fill="#000" >36h</text>
<line x1="306.10" y1="291.00" x2="306.10" y2="366.25" stroke="#8c8c8c" stroke-width="1.3"/>
<line x1="306.10" y1="365.60" x2="384.70" y2="365.60" stroke="#8c8c8c" stroke-width="1.3"/>
<text x="299.00" y="369" font-size="8.3" text-anchor="middle" font-weight="bold" fill="#000" >0</text>
<text x="299.00" y="354" font-size="8.3" text-anchor="middle" font-weight="bold" fill="#000" >2</text>
<text x="299.00" y="339" font-size="8.3" text-anchor="middle" font-weight="bold" fill="#000" >4</text>
<text x="299.00" y="324" font-size="8.3" text-anchor="middle" font-weight="bold" fill="#000" >6</text>
<text x="299.00" y="310" font-size="8.3" text-anchor="middle" font-weight="bold" fill="#000" >8</text>
<text x="299.00" y="295" font-size="8.3" text-anchor="middle" font-weight="bold" fill="#000" >10</text>
<line x1="306.10" y1="350.50" x2="308.10" y2="350.50" stroke="#8c8c8c" stroke-width="1"/>
<line x1="306.10" y1="335.50" x2="308.10" y2="335.50" stroke="#8c8c8c" stroke-width="1"/>
<line x1="306.10" y1="320.50" x2="308.10" y2="320.50" stroke="#8c8c8c" stroke-width="1"/>
<line x1="306.10" y1="306.50" x2="308.10" y2="306.50" stroke="#8c8c8c" stroke-width="1"/>
<line x1="306.10" y1="291.50" x2="308.10" y2="291.50" stroke="#8c8c8c" stroke-width="1"/>
<text x="332.00" y="287" font-size="7.3" text-anchor="middle" font-weight="bold" fill="#000" >Splenocytes</text>
<rect x="309.60" y="291.40" width="4.00" height="4.00" fill="#000" stroke="#000" stroke-width="0.8"/>
<text x="315.80" y="296" font-size="7.3" text-anchor="start" font-weight="bold" fill="#000" >wild-type</text>
<rect x="309.60" y="302.20" width="4.00" height="4.00" fill="#fff" stroke="#666" stroke-width="0.8"/>
<text x="316.20" y="306" font-size="7.3" text-anchor="start" font-weight="bold" fill="#000" >RIG-I</text>
<line x1="334.00" y1="302.00" x2="335.68" y2="302.00" stroke="#222" stroke-width="0.9"/>
<line x1="335.97" y1="304.00" x2="337.60" y2="300.00" stroke="#222" stroke-width="0.9"/>
<line x1="338.12" y1="302.00" x2="339.80" y2="302.00" stroke="#222" stroke-width="0.9"/>
<rect x="311.80" y="358.30" width="7.50" height="7.30" fill="#000"/>
<rect x="319.70" y="359.20" width="7.20" height="6.40" fill="#fff" stroke="#666" stroke-width="0.8"/>
<line x1="319.30" y1="359.30" x2="327.30" y2="359.30" stroke="#000" stroke-width="1"/>
<rect x="337.70" y="332.60" width="7.50" height="33.00" fill="#000"/>
<line x1="341.50" y1="329.50" x2="341.50" y2="332.60" stroke="#333" stroke-width="1"/>
<line x1="340.00" y1="329.50" x2="343.00" y2="329.50" stroke="#333" stroke-width="1"/>
<rect x="345.60" y="351.40" width="7.20" height="14.20" fill="#fff" stroke="#666" stroke-width="0.8"/>
<line x1="345.20" y1="351.50" x2="353.20" y2="351.50" stroke="#000" stroke-width="1"/>
<line x1="349.50" y1="349.50" x2="349.50" y2="354.50" stroke="#333" stroke-width="1"/>
<line x1="348.00" y1="349.50" x2="351.00" y2="349.50" stroke="#333" stroke-width="1"/>
<line x1="348.00" y1="354.50" x2="351.00" y2="354.50" stroke="#555" stroke-width="1"/>
<line x1="341.50" y1="320.50" x2="341.50" y2="327.40" stroke="#666" stroke-width="1"/>
<line x1="341.00" y1="320.50" x2="350.00" y2="320.50" stroke="#666" stroke-width="1"/>
<line x1="349.50" y1="320.50" x2="349.50" y2="344.90" stroke="#666" stroke-width="1"/>
<circle cx="347.85" cy="347.40" r="1.1" fill="#111"/>
<circle cx="351.15" cy="347.40" r="1.1" fill="#111"/>
<rect x="363.60" y="309.30" width="7.50" height="56.30" fill="#000"/>
<line x1="367.50" y1="304.50" x2="367.50" y2="309.30" stroke="#333" stroke-width="1"/>
<line x1="366.00" y1="304.50" x2="369.00" y2="304.50" stroke="#333" stroke-width="1"/>
<rect x="371.50" y="341.30" width="7.20" height="24.30" fill="#fff" stroke="#666" stroke-width="0.8"/>
<line x1="371.10" y1="341.40" x2="379.10" y2="341.40" stroke="#000" stroke-width="1"/>
<line x1="375.50" y1="339.50" x2="375.50" y2="343.50" stroke="#333" stroke-width="1"/>
<line x1="374.00" y1="339.50" x2="377.00" y2="339.50" stroke="#333" stroke-width="1"/>
<line x1="374.00" y1="343.50" x2="377.00" y2="343.50" stroke="#555" stroke-width="1"/>
<line x1="367.50" y1="298.50" x2="367.50" y2="302.00" stroke="#666" stroke-width="1"/>
<line x1="367.00" y1="298.50" x2="376.00" y2="298.50" stroke="#666" stroke-width="1"/>
<line x1="375.50" y1="298.50" x2="375.50" y2="334.20" stroke="#666" stroke-width="1"/>
<circle cx="373.85" cy="336.70" r="1.1" fill="#111"/>
<circle cx="377.15" cy="336.70" r="1.1" fill="#111"/>
<text x="320.00" y="375" font-size="8.3" text-anchor="middle" font-weight="bold" fill="#000" >0h</text>
<text x="345.80" y="375" font-size="8.3" text-anchor="middle" font-weight="bold" fill="#000" >18h</text>
<text x="372.30" y="375" font-size="8.3" text-anchor="middle" font-weight="bold" fill="#000" >36h</text>
<text x="299.70" y="384" font-size="8.3" text-anchor="middle" font-weight="bold" fill="#000" >Time after VSV infection</text>
<text x="399.68" y="275.81" font-size="17.5" font-weight="bold">G</text>
<text transform="translate(418.80,327.30) rotate(-90)" x="0" y="0" font-size="7.6" text-anchor="middle" font-weight="bold" textLength="99.2" lengthAdjust="spacingAndGlyphs">miR-146a expression fold</text>
<line x1="432.50" y1="290.20" x2="432.50" y2="365.65" stroke="#8c8c8c" stroke-width="1.3"/>
<line x1="432.50" y1="365.00" x2="510.00" y2="365.00" stroke="#8c8c8c" stroke-width="1.3"/>
<text x="426.20" y="368" font-size="8.3" text-anchor="middle" font-weight="bold" fill="#000" >0</text>
<text x="426.20" y="353" font-size="8.3" text-anchor="middle" font-weight="bold" fill="#000" >2</text>
<text x="426.20" y="339" font-size="8.3" text-anchor="middle" font-weight="bold" fill="#000" >4</text>
<text x="426.20" y="324" font-size="8.3" text-anchor="middle" font-weight="bold" fill="#000" >6</text>
<text x="426.20" y="310" font-size="8.3" text-anchor="middle" font-weight="bold" fill="#000" >8</text>
<text x="426.20" y="295" font-size="8.3" text-anchor="middle" font-weight="bold" fill="#000" >10</text>
<line x1="432.50" y1="349.50" x2="434.50" y2="349.50" stroke="#8c8c8c" stroke-width="1"/>
<line x1="432.50" y1="335.50" x2="434.50" y2="335.50" stroke="#8c8c8c" stroke-width="1"/>
<line x1="432.50" y1="320.50" x2="434.50" y2="320.50" stroke="#8c8c8c" stroke-width="1"/>
<line x1="432.50" y1="306.50" x2="434.50" y2="306.50" stroke="#8c8c8c" stroke-width="1"/>
<line x1="432.50" y1="291.50" x2="434.50" y2="291.50" stroke="#8c8c8c" stroke-width="1"/>
<rect x="443.60" y="291.00" width="4.00" height="4.00" fill="#000" stroke="#000" stroke-width="0.8"/>
<text x="448.90" y="296" font-size="7.5" text-anchor="start" font-weight="bold" fill="#000" >DMSO</text>
<rect x="443.60" y="301.10" width="4.00" height="4.00" fill="#fff" stroke="#555" stroke-width="0.8"/>
<text x="448.90" y="306" font-size="7.5" text-anchor="start" font-weight="bold" fill="#000" >PDTC</text>
<rect x="438.50" y="357.50" width="8.00" height="7.50" fill="#000"/>
<rect x="446.90" y="359.10" width="7.50" height="5.90" fill="#fff" stroke="#666" stroke-width="0.8"/>
<line x1="446.50" y1="359.20" x2="454.80" y2="359.20" stroke="#000" stroke-width="1"/>
<rect x="466.00" y="324.20" width="8.00" height="40.80" fill="#000"/>
<line x1="470.50" y1="320.50" x2="470.50" y2="324.20" stroke="#333" stroke-width="1"/>
<line x1="469.00" y1="320.50" x2="472.00" y2="320.50" stroke="#333" stroke-width="1"/>
<rect x="474.40" y="352.70" width="7.50" height="12.30" fill="#fff" stroke="#666" stroke-width="0.8"/>
<line x1="474.00" y1="352.80" x2="482.30" y2="352.80" stroke="#000" stroke-width="1"/>
<line x1="478.50" y1="351.50" x2="478.50" y2="356.50" stroke="#333" stroke-width="1"/>
<line x1="477.00" y1="351.50" x2="480.00" y2="351.50" stroke="#333" stroke-width="1"/>
<line x1="477.00" y1="356.50" x2="480.00" y2="356.50" stroke="#555" stroke-width="1"/>
<line x1="469.50" y1="310.50" x2="469.50" y2="318.30" stroke="#666" stroke-width="1"/>
<line x1="469.00" y1="310.50" x2="478.00" y2="310.50" stroke="#666" stroke-width="1"/>
<line x1="477.50" y1="310.50" x2="477.50" y2="344.90" stroke="#666" stroke-width="1"/>
<circle cx="476.15" cy="347.40" r="1.1" fill="#111"/>
<circle cx="479.45" cy="347.40" r="1.1" fill="#111"/>
<rect x="492.80" y="295.70" width="8.00" height="69.30" fill="#000"/>
<line x1="496.50" y1="289.50" x2="496.50" y2="295.70" stroke="#333" stroke-width="1"/>
<line x1="495.00" y1="289.50" x2="498.00" y2="289.50" stroke="#333" stroke-width="1"/>
<rect x="501.20" y="342.80" width="7.50" height="22.20" fill="#fff" stroke="#666" stroke-width="0.8"/>
<line x1="500.80" y1="342.90" x2="509.10" y2="342.90" stroke="#000" stroke-width="1"/>
<line x1="504.50" y1="338.50" x2="504.50" y2="346.50" stroke="#333" stroke-width="1"/>
<line x1="503.00" y1="338.50" x2="506.00" y2="338.50" stroke="#333" stroke-width="1"/>
<line x1="503.00" y1="346.50" x2="506.00" y2="346.50" stroke="#555" stroke-width="1"/>
<line x1="496.50" y1="282.50" x2="496.50" y2="287.30" stroke="#666" stroke-width="1"/>
<line x1="496.00" y1="282.50" x2="504.00" y2="282.50" stroke="#666" stroke-width="1"/>
<line x1="503.50" y1="282.50" x2="503.50" y2="332.10" stroke="#666" stroke-width="1"/>
<circle cx="502.15" cy="334.60" r="1.1" fill="#111"/>
<circle cx="505.45" cy="334.60" r="1.1" fill="#111"/>
<text x="447.30" y="374" font-size="8.3" text-anchor="middle" font-weight="bold" fill="#000" >0h</text>
<text x="475.40" y="374" font-size="8.3" text-anchor="middle" font-weight="bold" fill="#000" >18h</text>
<text x="502.20" y="374" font-size="8.3" text-anchor="middle" font-weight="bold" fill="#000" >36h</text>
<text x="472.50" y="382" font-size="8.3" text-anchor="middle" font-weight="bold" fill="#000" >Time after VSV infection</text>
</svg>
</body></html>
